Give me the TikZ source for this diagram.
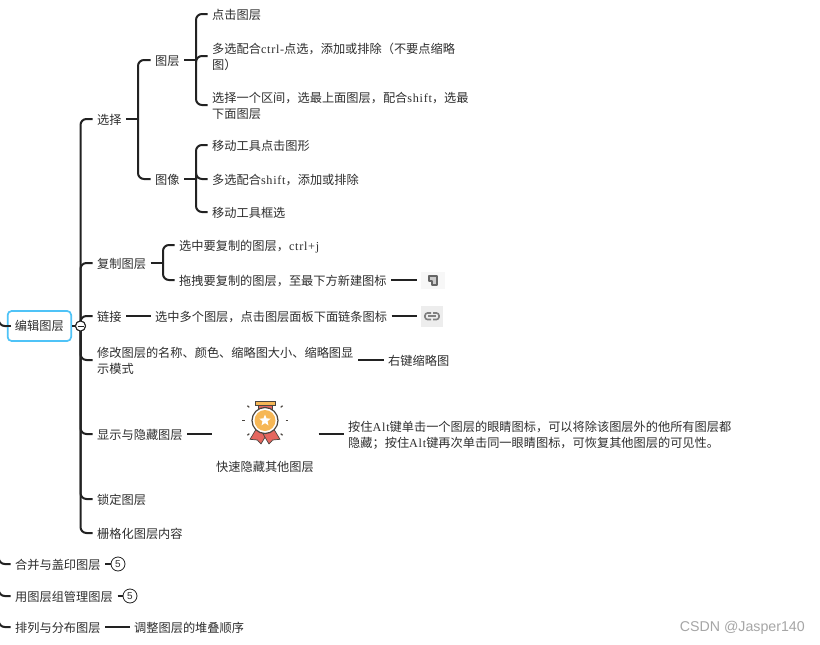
\documentclass[tikz,border=0pt]{standalone}
\usepackage{fontspec}
\setmainfont{Liberation Serif}
\newfontfamily\cjk{Noto Sans CJK SC}
\newfontfamily\latspaced[LetterSpace=6]{Liberation Serif}
\newfontfamily\marksans{Liberation Sans}
\usetikzlibrary{shapes.geometric}
\definecolor{inkline}{HTML}{222222}
\definecolor{inktext}{HTML}{2E2E2E}
\definecolor{rootblue}{HTML}{4FC3F7}
\definecolor{medalgold}{HTML}{F6B756}
\definecolor{medalred}{HTML}{E4675F}
\definecolor{medaldark}{HTML}{4A4540}
\newcommand{\lat}[1]{{\latspaced #1}}

\begin{document}
\begin{tikzpicture}[
    x=1pt, y=-1pt,
    topic/.style={
        anchor=west, inner xsep=4.5pt, inner ysep=0pt,
        align=left, text=inktext,
        font=\cjk\fontsize{12.2}{16}\selectfont,
        execute at begin node={\rule{0pt}{12.6pt}}
    },
    twoline/.style={text depth=-0.5pt},
    rootbox/.style={
        rectangle, draw=rootblue, line width=1.7pt, rounded corners=4pt,
        fill=white, minimum width=63.5pt, minimum height=30pt, inner sep=0pt,
        text=inktext, font=\cjk\fontsize{12.2}{16}\selectfont
    },
    branch/.style={draw=inkline, line width=2pt, rounded corners=6pt},
    count/.style={
        circle, draw=inkline, line width=0.8pt, fill=white,
        minimum size=14pt, inner sep=0pt, text=inktext,
        font=\marksans\fontsize{10}{10}\selectfont
    },
    iconbox/.style={rectangle, draw=none, inner sep=0pt, outer sep=4pt},
]
\useasboundingbox (0,0) rectangle (820,645);
\fill[white] (0,0) rectangle (820,645);

\coordinate (trunk) at (-1.2,300);
\coordinate (layerhub) at (138,119);
\coordinate (pickhub) at (196,60);
\coordinate (imagehub) at (196,179);
\coordinate (copyhub) at (163,263);
\coordinate (rootin) at (11,326);

% root
\node[rootbox] (root) at (39.4,326) {编辑图层};
\node[circle, draw=inkline, line width=1pt, fill=white, minimum size=10pt, inner sep=0pt] (rootdot) at (80.5,326) {};

% first level
\node[topic] (select) at (92.5,119) {选择};
\node[topic] (copy) at (92.5,263) {复制图层};
\node[topic] (chain) at (92.5,316) {链接};
\node[topic, twoline] (rename) at (92.5,360) {修改图层的名称、颜色、缩略图大小、缩略图显\\示模式};
\node[topic] (showhide) at (92.5,434) {显示与隐藏图层};
\node[topic] (lock) at (92.5,499) {锁定图层};
\node[topic] (raster) at (92.5,533) {栅格化图层内容};

% select
\node[topic] (layer) at (150.5,60) {图层};
\node[topic] (image) at (150.5,179) {图像};
\node[topic] (click) at (207.5,14) {点击图层};
\node[topic, twoline] (multi) at (207.5,56) {多选配合\lat{ctrl-}点选，添加或排除（不要点缩略\\图）};
\node[topic, twoline] (range) at (207.5,105) {选择一个区间，选最上面图层，配合\lat{shift}，选最\\下面图层};
\node[topic] (moveclick) at (207.5,145) {移动工具点击图形};
\node[topic] (moveshift) at (207.5,179) {多选配合\lat{shift}，添加或排除};
\node[topic] (movebox) at (207.5,212) {移动工具框选};

% copy and chain
\node[topic] (copykey) at (174.5,245) {选中要复制的图层，\lat{ctrl+j}};
\node[topic] (copydrag) at (174.5,280) {拖拽要复制的图层，至最下方新建图标};
\node[iconbox, fill=black!3, minimum width=24pt, minimum height=17pt] (copyicon) at (433,280) {};
\node[topic] (chainpick) at (150.5,316) {选中多个图层，点击图层面板下面链条图标};
\node[iconbox, fill=black!7, minimum width=22pt, minimum height=21pt] (chainicon) at (432,316) {};
\node[topic] (thumb) at (383.5,360) {右键缩略图};

% show and hide
\node[rectangle, inner sep=0pt, minimum width=106pt, minimum height=2pt] (medalbox) at (265.5,434) {};
\node[topic, anchor=center] (medaltext) at (265,466) {快速隐藏其他图层};
\node[topic, twoline] (altnote) at (343.5,434) {按住\lat{Alt}键单击一个图层的眼睛图标，可以将除该图层外的他所有图层都\\隐藏；按住\lat{Alt}键再次单击同一眼睛图标，可恢复其他图层的可见性。};

% other roots
\node[topic] (merge) at (10.5,564) {合并与盖印图层};
\node[count] (mergecount) at (118,564) {5};
\node[topic] (group) at (10.5,596) {用图层组管理图层};
\node[count] (groupcount) at (130,596) {5};
\node[topic] (arrange) at (10.5,627) {排列与分布图层};
\node[topic] (stack) at (129.5,627) {调整图层的堆叠顺序};

\node[anchor=east, inner sep=0pt, text=black!35, font=\marksans\fontsize{14.2}{15}\selectfont] (mark) at (805,628) {CSDN @Jasper140};

% connectors
\foreach \kid in {select,copy,chain,rename,showhide,lock,raster}
    \draw[branch] (\kid.west) -| (rootdot.center);
\foreach \kid in {layer,image}
    \draw[branch] (\kid.west) -| (layerhub);
\foreach \kid in {click,multi,range}
    \draw[branch] (\kid.west) -| (pickhub);
\foreach \kid in {moveclick,moveshift,movebox}
    \draw[branch] (\kid.west) -| (imagehub);
\foreach \kid in {copykey,copydrag}
    \draw[branch] (\kid.west) -| (copyhub);
\foreach \kid in {root,merge,group,arrange}
    \draw[branch] (\kid.west) -| (trunk);
\draw[branch] (rootin) -- (root.west);

\draw[branch] (select.east) -- (layerhub);
\draw[branch] (layer.east) -- (pickhub);
\draw[branch] (image.east) -- (imagehub);
\draw[branch] (copy.east) -- (copyhub);
\draw[branch] (copydrag.east) -- (copyicon.west);
\draw[branch] (chain.east) -- (chainpick.west);
\draw[branch] (chainpick.east) -- (chainicon.west);
\draw[branch] (rename.east) -- (thumb.west);
\draw[branch] (showhide.east) -- (medalbox.west);
\draw[branch] (medalbox.east) -- (altnote.west);
\draw[branch] (merge.east) -- (mergecount.west);
\draw[branch] (group.east) -- (groupcount.west);
\draw[branch] (arrange.east) -- (stack.west);
\draw[branch] (root.east) -- (rootdot.west);

% redraw on top of the connectors
\node[circle, draw=inkline, line width=1pt, fill=white, minimum size=10pt, inner sep=0pt] (rootdottop) at (80.5,326) {};
\draw[inkline, line width=1pt] (77.5,326) -- (83.5,326);

% copy icon
\draw[black!60, fill=black!20, line width=2pt, line join=round] (428.5,276) -- (436.5,276) -- (436.5,284.5) -- (432,284.5) -- (432,280.5) -- (428.5,280.5) -- cycle;
% chain icon
\draw[black!50, line width=1.6pt, rounded corners=2.5pt] (431,313) -- (425,313) -- (425,319.5) -- (431,319.5);
\draw[black!50, line width=1.6pt, rounded corners=2.5pt] (433,313) -- (439,313) -- (439,319.5) -- (433,319.5);
\draw[black!50, line width=1.6pt] (428,316.2) -- (436,316.2);

% medal
\fill[medalred, draw=medaldark, line width=0.7pt] (258,405) rectangle (272,412);
\fill[medalgold, draw=medaldark, line width=1pt] (255,401) rectangle (275,405.5);
\fill[medalred, draw=medaldark, line width=0.7pt, line join=round] (257.3,427.3) -- (250,439.3) -- (257.3,440) -- (261,444) -- (267.3,433.3) -- cycle;
\fill[medalred, draw=medaldark, line width=0.7pt, line join=round] (272.7,427.3) -- (280,439.3) -- (272.7,440) -- (269,444) -- (262.7,433.3) -- cycle;
\node[circle, draw=medaldark, line width=1.2pt, fill=white, minimum size=26pt, inner sep=0pt] (medalring) at (265,420.5) {};
\node[circle, fill=medalgold, minimum size=21pt, inner sep=0pt] (medaldisc) at (265,420.5) {};
\node[star, star points=5, star point ratio=2.3, fill=white, minimum size=12pt, inner sep=0pt] (medalstar) at (265,420.5) {};
\begin{scope}[shift={(265,420.5)}]
\foreach \ang in {0,40,140,180,220,320}
    \draw[medaldark, line width=1.2pt] (\ang:20.5) -- (\ang:23);
\end{scope}

\end{tikzpicture}
\end{document}
